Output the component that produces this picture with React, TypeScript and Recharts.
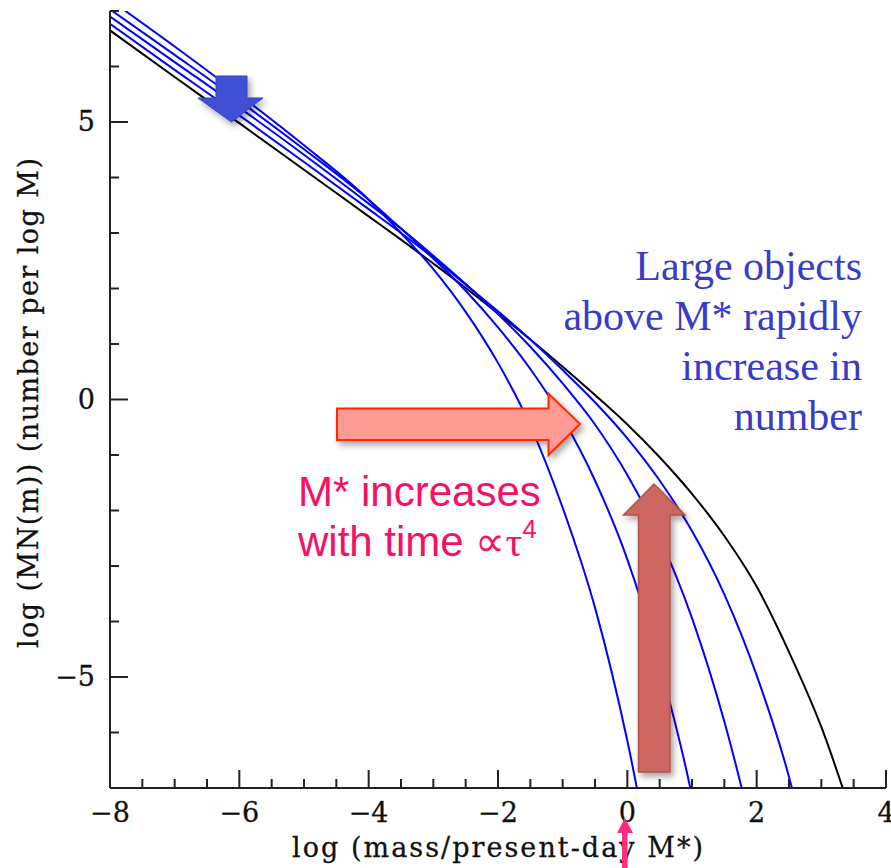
import React from 'react';
import { LineChart, Line, XAxis, YAxis } from 'recharts';

// log(mass / present-day M*) sample positions
const gridX = [-8, -7, -6, -5, -4, -3.5, -3, -2.5, -2, -1.5, -1, -0.5, 0, 0.5, 1, 1.5, 2, 2.5, 3, 3.5];

// log(MN(m)), one list per curve (earliest -> present day)
const blueEarliest = [7.2, 6.36, 5.49, 4.58, 3.6, 3.0, 2.35, 1.58, 0.66, -0.47, -1.95, -3.75, -6.15, -9.2];
const blueSecond = [7.03, 6.21, 5.38, 4.51, 3.6, 3.08, 2.54, 1.96, 1.3, 0.55, -0.34, -1.46, -2.88, -4.77, -7.15, -10.5];
const blueThird = [6.9, 6.08, 5.26, 4.41, 3.53, 3.08, 2.59, 2.08, 1.54, 0.95, 0.29, -0.45, -1.36, -2.49, -3.94, -5.8, -8.1];
const blueFourth = [6.77, 5.94, 5.12, 4.28, 3.43, 3.0, 2.55, 2.07, 1.59, 1.08, 0.53, -0.05, -0.7, -1.46, -2.37, -3.51, -4.97, -6.8, -9.3];
const blackPresent = [6.65, 5.81, 4.98, 4.14, 3.3, 2.88, 2.45, 2.01, 1.55, 1.08, 0.59, 0.08, -0.45, -1.04, -1.7, -2.46, -3.37, -4.55, -5.9, -7.6];

const xDomain = [-8, 4];
const yDomain = [-7, 7];
const xTicks = [-8, -7.5, -7, -6.5, -6, -5.5, -5, -4.5, -4, -3.5, -3, -2.5, -2, -1.5, -1, -0.5, 0, 0.5, 1, 1.5, 2, 2.5, 3, 3.5, 4];
const yTicks = [-7, -6, -5, -4, -3, -2, -1, 0, 1, 2, 3, 4, 5, 6, 7];
const xLabelTicks = [-8, -6, -4, -2, 0, 2, 4];
const yLabelTicks = [-5, 0, 5];

const xTitle = 'log (mass/present-day M*)';
const yTitle = 'log (MN(m)) (number per log M)';
const blueNote = ['Large objects', 'above M* rapidly', 'increase in', 'number'];
const pinkNote1 = 'M* increases';
const pinkNote2 = 'with time ';

const toPoints = (ys: number[]) => ys.map((y, i) => ({ x: gridX[i], y }));

const AXFONT = '"DejaVu Serif", "Liberation Serif", serif';
const AXIS = '#222';
const fmt = (v: number) => (v < 0 ? '\u2212' + Math.abs(v) : String(v));

const MAJ = 18;
const MIN = 9;

const BottomTick = (p: any) => {
  const v = p.payload.value;
  const major = xLabelTicks.includes(v);
  return (
    <g>
      <line x1={p.x} x2={p.x} y1={p.y} y2={p.y - (major ? MAJ : MIN)} stroke={AXIS} strokeWidth={2} />
      {major && (
        <text x={p.x} y={p.y + 34} textAnchor="middle" fontFamily={AXFONT} fontSize={27} fill="#111" stroke="#111" strokeWidth={0.3}>
          {fmt(v)}
        </text>
      )}
    </g>
  );
};

const TopTick = (p: any) => {
  const v = p.payload.value;
  const major = xLabelTicks.includes(v);
  return <line x1={p.x} x2={p.x} y1={p.y} y2={p.y + (major ? MAJ : MIN)} stroke={AXIS} strokeWidth={2} />;
};

const LeftTick = (p: any) => {
  const v = p.payload.value;
  const major = yLabelTicks.includes(v);
  return (
    <g>
      <line x1={p.x} x2={p.x + (major ? MAJ : MIN)} y1={p.y} y2={p.y} stroke={AXIS} strokeWidth={2} />
      {major && (
        <text x={p.x - 15} y={p.y + 9} textAnchor="end" fontFamily={AXFONT} fontSize={27} fill="#111" stroke="#111" strokeWidth={0.3}>
          {fmt(v)}
        </text>
      )}
    </g>
  );
};

const RightTick = (p: any) => {
  const v = p.payload.value;
  const major = yLabelTicks.includes(v);
  return <line x1={p.x} x2={p.x - (major ? MAJ : MIN)} y1={p.y} y2={p.y} stroke={AXIS} strokeWidth={2} />;
};

const axisLine = { stroke: AXIS, strokeWidth: 2 };

export default function App() {
  return (
    <div style={{ position: 'absolute', left: 0, top: 0, width: 891, height: 868, background: '#fff' }}>
      <LineChart width={891} height={868} margin={{ top: 11, right: 5, bottom: 0, left: 0 }}>
        <XAxis
          dataKey="x"
          type="number"
          domain={xDomain}
          allowDataOverflow
          ticks={xTicks}
          interval={0}
          height={80}
          tickSize={0}
          tickMargin={0}
          tickLine={false}
          axisLine={axisLine}
          tick={BottomTick}
        />
        <XAxis
          xAxisId="top"
          orientation="top"
          type="number"
          domain={xDomain}
          allowDataOverflow
          ticks={xTicks}
          interval={0}
          height={0}
          tickSize={0}
          tickMargin={0}
          tickLine={false}
          axisLine={axisLine}
          tick={TopTick}
        />
        <YAxis
          type="number"
          domain={yDomain}
          allowDataOverflow
          ticks={yTicks}
          interval={0}
          width={110}
          tickSize={0}
          tickMargin={0}
          tickLine={false}
          axisLine={axisLine}
          tick={LeftTick}
        />
        <YAxis
          yAxisId="right"
          orientation="right"
          type="number"
          domain={yDomain}
          allowDataOverflow
          ticks={yTicks}
          interval={0}
          width={0}
          tickSize={0}
          tickMargin={0}
          tickLine={false}
          axisLine={axisLine}
          tick={RightTick}
        />
        <Line data={toPoints(blackPresent)} dataKey="y" type="monotone" stroke="#000" strokeWidth={2} dot={false} activeDot={false} isAnimationActive={false} />
        <Line data={toPoints(blueFourth)} dataKey="y" type="monotone" stroke="#0000ff" strokeWidth={2} dot={false} activeDot={false} isAnimationActive={false} />
        <Line data={toPoints(blueThird)} dataKey="y" type="monotone" stroke="#0000ff" strokeWidth={2} dot={false} activeDot={false} isAnimationActive={false} />
        <Line data={toPoints(blueSecond)} dataKey="y" type="monotone" stroke="#0000ff" strokeWidth={2} dot={false} activeDot={false} isAnimationActive={false} />
        <Line data={toPoints(blueEarliest)} dataKey="y" type="monotone" stroke="#0000ff" strokeWidth={2} dot={false} activeDot={false} isAnimationActive={false} />
      </LineChart>
      <svg width={891} height={868} style={{ position: 'absolute', left: 0, top: 0, pointerEvents: 'none' }}>
        <defs>
          <filter id="shadow" x="-30%" y="-30%" width="160%" height="160%">
            <feDropShadow dx="3" dy="4" stdDeviation="3" floodColor="#000" floodOpacity="0.35" />
          </filter>
        </defs>
        {/* axis titles */}
        <text x={292} y={857} textLength={411} lengthAdjust="spacing" fontFamily={AXFONT} fontSize={27} fill="#111" stroke="#111" strokeWidth={0.3}>
          {xTitle}
        </text>
        <text
          x={0}
          y={0}
          transform="translate(38,648) rotate(-90)"
          textLength={490}
          lengthAdjust="spacing"
          fontFamily={AXFONT}
          fontSize={27}
          fill="#111"
          stroke="#111"
          strokeWidth={0.3}
        >
          {yTitle}
        </text>
        {/* blue down arrow */}
        <polygon
          points="216,76 247,76 247,98 263,98 231.5,122 198,98 216,98"
          fill="#3f4fd4"
          stroke="#3444c4"
          strokeWidth={1}
          filter="url(#shadow)"
        />
        {/* salmon right arrow */}
        <polygon
          points="337,408.5 548.5,408.5 548.5,393.5 580,424 548.5,455 548.5,440 337,440"
          fill="#ff9a95"
          stroke="#ff2a00"
          strokeWidth={2}
          filter="url(#shadow)"
        />
        {/* brown up arrow */}
        <polygon
          points="638.5,772 670,772 670,515 685,515 654,484 623.5,515 638.5,515"
          fill="#cd6660"
          stroke="#b0514a"
          strokeWidth={1.5}
          filter="url(#shadow)"
        />
        {/* pink arrow at M* */}
        <polygon points="622,868 627.5,868 627.5,833 633,833 625,818 617,833 622,833" fill="#ff2d7d" />
        {/* annotations */}
        <g fontFamily='"Liberation Serif", "Times New Roman", serif' fontSize={42} fill="#3b3bc9" textAnchor="end">
          {blueNote.map((t, i) => (
            <text key={t} x={862} y={280 + i * 50}>
              {t}
            </text>
          ))}
        </g>
        <g fontFamily='"Liberation Sans", Arial, sans-serif' fontSize={42} fill="#fa0f65">
          <text x={298} y={506}>{pinkNote1}</text>
          <text x={298} y={556}>
            {pinkNote2}
            <tspan fontFamily='"Liberation Serif", "Times New Roman", serif'>{'\u221D\u03C4'}</tspan>
            <tspan fontSize={26} dy={-18}>4</tspan>
          </text>
        </g>
      </svg>
    </div>
  );
}
